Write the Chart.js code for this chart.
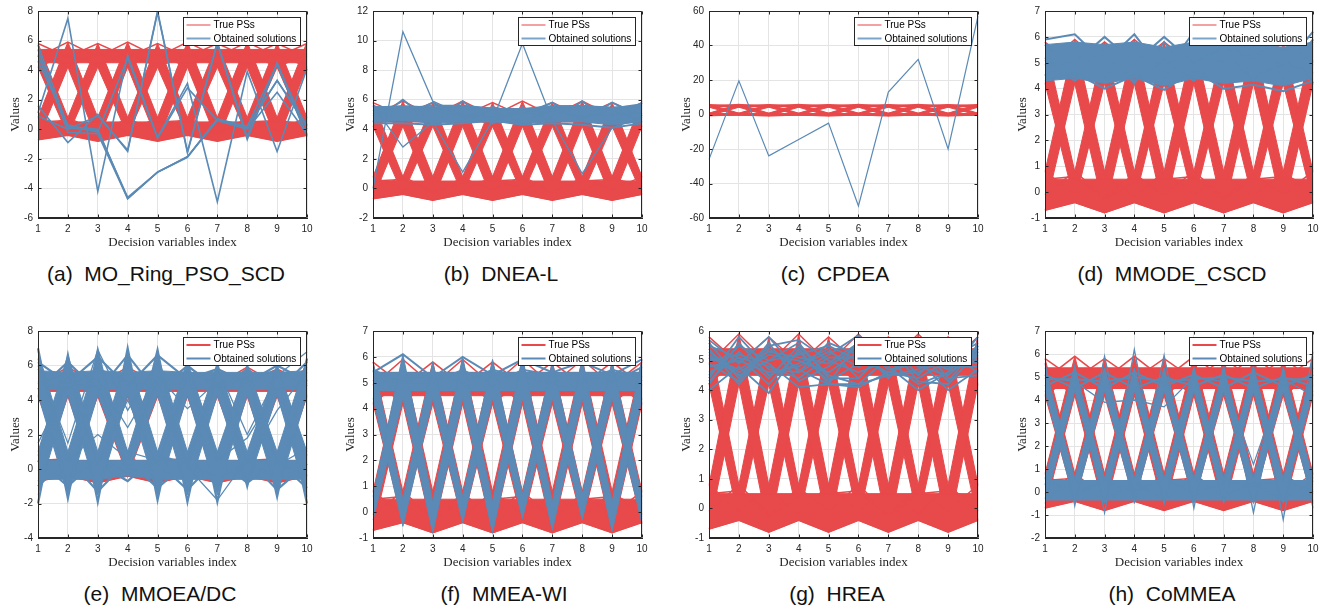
<!DOCTYPE html>
<html>
<head>
<meta charset="utf-8">
<script src="https://cdn.jsdelivr.net/npm/chart.js@4.4.1/dist/chart.umd.min.js"></script>
<style>
html, body { margin: 0; padding: 0; background: #fff; }
body { width: 1323px; height: 607px; position: relative; overflow: hidden; font-family: 'Liberation Sans', Arial, sans-serif; }
.panel { position: absolute; }
.cap { position: absolute; font-size: 21px; line-height: 1; white-space: pre; transform: translateX(-50%); color: #111; }
</style>
</head>
<body>
<script>
// x axis: decision variable index
const varIndex = [1, 2, 3, 4, 5, 6, 7, 8, 9, 10];

// true PSs (same in every panel): the two flat bands and the two crossing ribbons, as upper/lower edges
const psLowTop = [0.5, 0.5, 0.5, 0.5, 0.5, 0.5, 0.5, 0.5, 0.5, 0.5];
const psLowBottom = [-0.7, -0.4, -0.8, -0.4, -0.8, -0.4, -0.8, -0.4, -0.8, -0.4];
const psHighTop = [5.4, 5.4, 5.4, 5.4, 5.4, 5.4, 5.4, 5.4, 5.4, 5.4];
const psHighBottom = [4.5, 4.5, 4.5, 4.5, 4.5, 4.5, 4.5, 4.5, 4.5, 4.5];
const psRibbonATop = [0.8, 5.9, 0.8, 5.9, 0.8, 5.9, 0.8, 5.9, 0.8, 5.9];
const psRibbonABottom = [-0.7, 4.2, -0.8, 4.2, -0.8, 4.2, -0.8, 4.2, -0.8, 4.2];
const psRibbonBTop = [5.8, 0.8, 5.8, 0.8, 5.8, 0.8, 5.8, 0.8, 5.8, 0.8];
const psRibbonBBottom = [4.2, -0.4, 4.2, -0.4, 4.2, -0.4, 4.2, -0.4, 4.2, -0.4];
// single true PS lines inside the bands
const psLow = [
    [0.8, -0.1, 0.7, -0.2, 0.8, -0.1, 0.7, -0.2, 0.8, -0.1],
    [-0.1, 0.8, -0.2, 0.7, -0.1, 0.8, -0.2, 0.7, -0.1, 0.8],
    [-0.7, -0.4, -0.8, -0.4, -0.8, -0.4, -0.8, -0.4, -0.8, -0.4],
    [0.5, 0.6, -0.3, 0.4, 0.5, 0.6, -0.3, 0.5, 0.6, 0.3]
];
const psHigh = [
    [4.2, 5.1, 4.3, 5.2, 4.2, 5.1, 4.3, 5.2, 4.2, 5.1],
    [5.1, 4.2, 5.2, 4.3, 5.1, 4.2, 5.2, 4.3, 5.1, 4.2],
    [5.8, 4.9, 5.8, 4.9, 5.8, 4.9, 5.8, 4.9, 5.8, 4.9],
    [4.9, 5.9, 4.9, 5.9, 4.9, 5.9, 4.9, 5.9, 4.9, 5.8]
];

// (a) MO_Ring_PSO_SCD
const solAThin = [
    [1.1, 7.5, -4.2, 5.0, -0.55, 3.1, -4.9, 3.9, -1.5, 4.1],
    [5.7, 0.2, 0.0, -4.7, -2.9, -1.85, 0.7, 0.1, 3.3, 0.2],
    [5.4, -0.2, -0.3, -4.7, -2.9, -1.85, 0.6, 0.0, 2.5, -0.3],
    [1.6, -0.9, 1.0, -1.5, 8.0, -1.6, 5.8, -0.7, 4.5, -0.4],
    [4.6, 0.3, -0.2, 4.8, -0.6, 2.8, 0.6, 0.2, 4.4, 0.0],
    [0.9, 0.0, 0.9, -1.4, 7.9, -1.5, 5.9, -0.5, 4.4, -0.5],
    [5.0, 0.1, -0.1, -4.6, -2.9, -1.9, 0.7, 0.2, 3.3, 0.3]
];
// (b) DNEA-L
const solBTop = [5.5, 5.6, 5.5, 5.6, 5.4, 5.4, 5.6, 5.6, 5.5, 5.6];
const solBBottom = [4.5, 4.6, 4.4, 4.5, 4.5, 4.4, 4.5, 4.5, 4.3, 4.5];
const solB = [
    [5.6, 4.9, 5.8, 4.5, 5.5, 5.0, 5.8, 4.6, 5.8, 4.9],
    [4.5, 6.0, 4.4, 5.9, 4.4, 5.5, 4.5, 5.9, 4.4, 5.8],
    [5.3, 4.6, 5.4, 4.8, 5.2, 4.5, 5.3, 4.8, 5.4, 4.5],
    [4.4, 4.4, 4.3, 4.4, 4.6, 4.3, 4.4, 4.3, 4.1, 4.4],
    [5.5, 5.4, 5.6, 5.6, 5.4, 5.3, 5.5, 5.6, 5.4, 5.7]
];
const solBThin = [
    [0.0, 10.6, 5.9, 5.0, 4.8, 5.1, 5.2, 4.9, 5.0, 5.1],
    [5.6, 2.8, 4.5, 1.1, 4.6, 9.8, 4.6, 1.0, 4.1, 4.8]
];
// (c) CPDEA
const solCThin = [
    [-26, 19.5, -24, -14.5, -5, -53, 13, 32, -20, 57]
];
// (d) MMODE_CSCD
const solDTop = [5.7, 5.8, 5.7, 5.8, 5.6, 5.8, 5.7, 5.7, 5.6, 5.8];
const solDBottom = [4.3, 4.4, 4.2, 4.4, 4.1, 4.4, 4.2, 4.3, 4.1, 4.4];
const solD = [
    [5.9, 6.1, 5.0, 6.1, 4.6, 6.2, 5.0, 5.9, 4.8, 6.2],
    [4.9, 5.0, 6.0, 5.0, 6.0, 5.0, 5.6, 5.2, 5.9, 5.0],
    [4.3, 4.6, 4.0, 4.5, 3.95, 4.7, 4.0, 4.15, 3.9, 4.3],
    [5.2, 4.3, 5.3, 4.3, 5.1, 4.3, 5.2, 4.4, 5.0, 4.6],
    [4.5, 5.8, 4.4, 5.8, 4.4, 5.7, 4.6, 5.6, 4.4, 5.9],
    [5.7, 4.5, 5.5, 4.2, 5.8, 4.4, 5.7, 4.3, 5.6, 4.2]
];
// (e) MMOEA/DC
const solERibbonATop = [1.0, 6.6, 1.0, 6.6, 1.0, 6.2, 1.0, 6.0, 1.0, 6.4];
const solERibbonABottom = [-1.5, 4.3, -1.5, 4.3, -1.5, 4.3, -1.5, 4.3, -1.4, 4.3];
const solERibbonBTop = [6.8, 1.0, 6.6, 1.0, 6.6, 1.0, 6.1, 1.0, 6.0, 1.0];
const solERibbonBBottom = [4.3, -1.5, 4.3, -0.3, 4.3, -1.5, 4.3, -1.0, 4.3, -1.6];
const solEHighTop = [5.7, 5.6, 5.7, 5.6, 5.7, 5.6, 5.6, 5.6, 5.6, 5.7];
const solEHighBottom = [4.6, 4.6, 4.6, 4.6, 4.6, 4.6, 4.6, 4.6, 4.6, 4.6];
const solELowTop = [0.5, 0.5, 0.5, 0.5, 0.5, 0.5, 0.5, 0.5, 0.5, 0.5];
const solELowBottom = [-0.6, -0.6, -0.6, -0.4, -0.6, -0.6, -0.6, -0.6, -0.6, -0.6];
const solE = [
    [-2.0, 6.6, -1.9, 7.0, -1.8, 6.2, -1.9, 6.0, -1.6, 6.4],
    [7.0, -1.7, 6.9, -0.3, 6.9, -1.9, 6.1, -1.0, 6.0, -2.0],
    [6.2, 5.0, 6.5, 4.8, 6.6, 5.2, 5.8, 5.0, 6.0, 5.1],
    [4.6, 6.2, 4.5, 6.6, 4.4, 6.0, 4.6, 5.8, 4.5, 6.2],
    [5.0, 4.6, 5.8, 5.1, 4.9, 5.7, 4.8, 5.3, 5.7, 4.8],
    [0.5, -1.0, 0.6, -0.2, 0.4, -1.2, 0.6, -0.8, 0.5, -1.1],
    [-1.0, 0.6, -1.3, 0.5, -1.1, 0.4, -0.9, 0.6, -1.2, 0.3],
    [-0.6, -0.4, 0.3, -0.7, 0.8, 0.3, -0.5, 0.4, -0.6, -0.3]
];
const solEThin = [
    [5.0, 5.5, 0.3, 4.0, 0.2, 5.3, 0.5, 1.8, 4.6, 5.0],
    [0.4, 5.6, 5.2, 2.4, 5.4, 3.5, 5.1, 0.4, 3.4, 5.6],
    [6.4, 0.5, 2.0, 0.6, 5.2, 0.1, -1.8, 0.6, 0.2, 1.2],
    [1.5, 4.9, 4.8, 1.0, 0.5, 0.6, 5.0, 5.3, 0.4, -0.4],
    [6.0, 1.5, 6.9, 3.4, 6.2, 0.0, 5.9, 2.0, 5.4, 6.8]
];
// (f) MMEA-WI
const solFRibbonATop = [0.6, 6.1, 0.4, 6.0, 0.4, 6.0, 0.4, 5.9, 0.4, 5.9];
const solFRibbonABottom = [-0.3, 4.4, -0.8, 4.4, -0.8, 4.4, -0.7, 4.4, -0.75, 4.4];
const solFRibbonBTop = [5.8, 0.5, 5.8, 0.6, 5.9, 0.7, 5.8, 0.7, 5.8, 0.6];
const solFRibbonBBottom = [4.4, -0.55, 4.4, -0.4, 4.4, -0.25, 4.4, -0.3, 4.4, -0.45];
const solFTop = [5.4, 5.4, 5.4, 5.4, 5.4, 5.4, 5.4, 5.4, 5.4, 5.4];
const solFBottom = [4.7, 4.7, 4.7, 4.7, 4.7, 4.7, 4.7, 4.7, 4.7, 4.7];
const solF = [
    [5.4, 6.1, 5.2, 6.0, 5.3, 5.9, 5.4, 5.8, 5.3, 5.9],
    [5.0, 5.1, 5.4, 5.0, 5.5, 5.2, 5.0, 5.4, 5.0, 5.6],
    [5.5, 5.0, 5.0, 5.5, 4.9, 5.5, 5.3, 5.0, 5.5, 5.2]
];
// (g) HREA
const solGThin = [
    [5.7, 4.9, 5.8, 4.6, 5.2, 5.85, 4.8, 4.0, 4.6, 5.8],
    [4.0, 4.8, 3.9, 5.4, 4.2, 4.1, 4.6, 5.0, 4.0, 4.7],
    [4.9, 4.3, 5.5, 5.7, 5.0, 4.6, 5.0, 5.2, 4.9, 5.0],
    [5.0, 5.2, 4.9, 4.1, 4.2, 4.2, 4.5, 4.6, 5.1, 5.2],
    [4.5, 5.5, 5.0, 5.2, 5.5, 5.0, 5.3, 4.8, 4.5, 5.4],
    [5.3, 4.6, 5.2, 5.0, 4.6, 5.3, 4.9, 5.4, 5.2, 4.9],
    [4.8, 5.0, 4.6, 4.8, 5.3, 4.8, 5.2, 5.1, 4.7, 5.5],
    [5.1, 4.7, 5.3, 5.1, 4.9, 5.6, 4.7, 4.9, 5.4, 5.1],
    [4.3, 5.3, 4.4, 5.5, 4.5, 4.2, 5.1, 5.0, 4.8, 4.8],
    [5.5, 5.1, 4.8, 4.4, 5.1, 5.1, 4.6, 4.4, 5.0, 5.6],
    [4.2, 5.6, 4.5, 4.9, 5.4, 4.4, 5.5, 4.3, 4.2, 5.3],
    [5.6, 4.4, 5.6, 4.3, 4.8, 5.5, 4.4, 5.6, 4.4, 4.5],
    [4.6, 5.1, 4.2, 5.3, 4.3, 4.9, 5.6, 4.5, 5.6, 5.0],
    [5.2, 4.5, 5.0, 5.6, 4.4, 4.4, 5.4, 5.3, 4.3, 5.5],
    [4.4, 5.8, 4.7, 4.6, 5.6, 5.2, 4.5, 4.7, 5.3, 4.6],
    [5.4, 4.2, 5.4, 4.7, 4.2, 5.7, 5.0, 4.2, 4.6, 5.2]
];
// (h) CoMMEA
const solHRibbonATop = [0.6, 5.4, 0.6, 5.4, 0.6, 5.4, 0.6, 5.4, 0.6, 5.4];
const solHRibbonABottom = [-0.5, 4.4, -0.5, 4.4, -0.5, 4.4, -0.5, 4.4, -0.5, 4.4];
const solHRibbonBTop = [5.4, 0.6, 5.4, 0.6, 5.4, 0.6, 5.4, 0.6, 5.4, 0.6];
const solHRibbonBBottom = [4.4, -0.5, 4.4, -0.5, 4.4, -0.5, 4.4, -0.5, 4.4, -0.5];
const solHTop = [0.5, 0.5, 0.5, 0.5, 0.5, 0.5, 0.5, 0.5, 0.5, 0.5];
const solHBottom = [-0.35, -0.35, -0.35, -0.35, -0.35, -0.35, -0.35, -0.35, -0.35, -0.35];
const solH = [
    [0.6, -0.1, 0.5, 0.0, 0.6, -0.1, 0.4, 0.3, 0.5, 0.0],
    [-0.3, 0.5, -0.4, 0.4, -0.3, 0.6, -0.2, 0.4, -0.4, 0.5],
    [5.1, 4.5, 5.2, 4.5, 5.0, 4.6, 5.1, 4.5, 5.0, 4.6],
    [4.6, 5.2, 4.5, 5.2, 4.6, 5.1, 4.5, 5.2, 4.6, 5.1],
    [4.9, 4.9, 4.8, 5.0, 4.8, 4.9, 5.0, 4.8, 4.9, 4.9]
];
const solHThin = [
    [0.3, 5.5, -0.9, 6.2, -0.5, 5.4, 0.2, 5.5, -1.2, 6.1],
    [5.6, -0.6, 5.9, -0.2, 5.95, -0.7, 5.5, -0.9, 5.4, -0.7],
    [5.0, 4.8, 3.9, 4.0, 3.7, 5.0, 4.8, 1.2, 4.9, 4.2]
];

// y tick labels per panel
const yTicksA = [-6, -4, -2, 0, 2, 4, 6, 8];
const yTicksB = [-2, 0, 2, 4, 6, 8, 10, 12];
const yTicksC = [-60, -40, -20, 0, 20, 40, 60];
const yTicksD = [-1, 0, 1, 2, 3, 4, 5, 6, 7];
const yTicksE = [-4, -2, 0, 2, 4, 6, 8];
const yTicksF = [-1, 0, 1, 2, 3, 4, 5, 6, 7];
const yTicksG = [-1, 0, 1, 2, 3, 4, 5, 6];
const yTicksH = [-2, -1, 0, 1, 2, 3, 4, 5, 6, 7];

const captions = ['(a)  MO_Ring_PSO_SCD', '(b)  DNEA-L', '(c)  CPDEA', '(d)  MMODE_CSCD',
                  '(e)  MMOEA/DC', '(f)  MMEA-WI', '(g)  HREA', '(h)  CoMMEA'];

const RED = '#e8494b';
const BLUE = '#5a8ab5';
const GRID = '#e4e4e4';
const AXIS = '#262626';
const SANS = "'Liberation Sans', Arial, sans-serif";
const SERIF = "'Liberation Serif', 'Times New Roman', serif";

const redFills = [[psLowTop, psLowBottom], [psHighTop, psHighBottom],
                  [psRibbonATop, psRibbonABottom], [psRibbonBTop, psRibbonBBottom]];

const panels = [
    {x: 38, y: 11, w: 269, ticks: yTicksA, fills: [], band: [], thin: solAThin,
     redW: 1.5, bandW: 2, thinW: 1.6, capX: 166, capY: 263, top: true},
    {x: 373, y: 11, w: 269, ticks: yTicksB, fills: [[solBTop, solBBottom]], band: solB, thin: solBThin,
     redW: 1.5, bandW: 2, thinW: 1.3, capX: 501, capY: 263, top: true},
    {x: 709, y: 11, w: 269, ticks: yTicksC, fills: [], band: [], thin: solCThin,
     redW: 1, bandW: 2, thinW: 1.2, capX: 835, capY: 263, top: true},
    {x: 1045, y: 11, w: 268, ticks: yTicksD, fills: [[solDTop, solDBottom]], band: solD, thin: [],
     redW: 1.5, bandW: 2, thinW: 1.3, capX: 1172, capY: 263, top: true},
    {x: 38, y: 331, w: 269, ticks: yTicksE,
     fills: [[solERibbonATop, solERibbonABottom], [solERibbonBTop, solERibbonBBottom],
             [solEHighTop, solEHighBottom], [solELowTop, solELowBottom]],
     band: solE, thin: solEThin, redW: 1.5, bandW: 2.2, thinW: 1.3, capX: 160, capY: 583, top: false},
    {x: 373, y: 331, w: 269, ticks: yTicksF,
     fills: [[solFRibbonATop, solFRibbonABottom], [solFRibbonBTop, solFRibbonBBottom], [solFTop, solFBottom]],
     band: solF, thin: [], redW: 1.5, bandW: 2, thinW: 1.3, capX: 504, capY: 583, top: false},
    {x: 709, y: 331, w: 269, ticks: yTicksG, fills: [], band: [], thin: solGThin,
     redW: 1.5, bandW: 2, thinW: 1.8, capX: 837, capY: 583, top: false},
    {x: 1045, y: 331, w: 268, ticks: yTicksH,
     fills: [[solHRibbonATop, solHRibbonABottom], [solHRibbonBTop, solHRibbonBBottom], [solHTop, solHBottom]],
     band: solH, thin: solHThin, redW: 1.5, bandW: 2, thinW: 1.3, capX: 1172, capY: 583, top: false}
];

// box around the axes plus inward tick marks
const framePlugin = {
    id: 'frame',
    afterDatasetsDraw(chart) {
        const {ctx, chartArea: a, scales: {x, y}} = chart;
        const L = Math.round(a.left) + 0.5, R = Math.round(a.right) - 0.5;
        const T = Math.round(a.top) + 0.5, B = Math.round(a.bottom) - 0.5;
        ctx.save();
        ctx.strokeStyle = AXIS;
        ctx.lineWidth = 1;
        ctx.beginPath();
        ctx.rect(L, T, R - L, B - T);
        x.ticks.forEach((t, i) => {
            const px = Math.round(x.getPixelForTick(i)) + 0.5;
            ctx.moveTo(px, B); ctx.lineTo(px, B - 3);
            ctx.moveTo(px, T); ctx.lineTo(px, T + 3);
        });
        y.ticks.forEach(t => {
            const py = Math.round(y.getPixelForValue(t.value)) + 0.5;
            ctx.moveTo(L, py); ctx.lineTo(L + 3, py);
            ctx.moveTo(R, py); ctx.lineTo(R - 3, py);
        });
        ctx.stroke();
        ctx.restore();
    }
};

// legend box in the upper right corner
const legendPlugin = {
    id: 'boxLegend',
    afterDraw(chart, args, opts) {
        const {ctx, chartArea: a} = chart;
        ctx.save();
        ctx.font = '10px ' + SANS;
        const tw = ctx.measureText('Obtained solutions').width;
        const bw = Math.round(tw + 34), bh = 28;
        const bx = Math.round(a.right - 7 - bw) + 0.5, by = Math.round(a.top + 6) + 0.5;
        ctx.fillStyle = '#fff';
        ctx.fillRect(bx, by, bw, bh);
        ctx.strokeStyle = AXIS;
        ctx.lineWidth = 1;
        ctx.strokeRect(bx, by, bw, bh);
        const rows = [['True PSs', opts.red], ['Obtained solutions', opts.blue]];
        rows.forEach((r, i) => {
            const ry = by + 7.5 + i * 13.5;
            ctx.strokeStyle = r[1];
            ctx.lineWidth = 2;
            ctx.beginPath();
            ctx.moveTo(bx + 3, ry);
            ctx.lineTo(bx + 27, ry);
            ctx.stroke();
            ctx.fillStyle = '#000';
            ctx.textBaseline = 'middle';
            ctx.fillText(r[0], bx + 30, ry + 0.5);
        });
        ctx.restore();
    }
};

// lower order is drawn later: solutions sit above the true PSs
function lineSet(rows, color, width, order) {
    return rows.map(r => ({
        data: r, borderColor: color, borderWidth: width,
        pointRadius: 0, tension: 0, fill: false, order: order
    }));
}

// upper edge filled down to the next dataset (its lower edge)
function fillSet(pairs, color, order) {
    const out = [];
    pairs.forEach(pr => {
        out.push({data: pr[0], borderColor: color, borderWidth: 1, backgroundColor: color,
                  pointRadius: 0, tension: 0, fill: '+1', order: order});
        out.push({data: pr[1], borderColor: color, borderWidth: 1,
                  pointRadius: 0, tension: 0, fill: false, order: order});
    });
    return out;
}

panels.forEach((p, i) => {
    const W = p.w + 48, H = 207 + 50;
    const wrap = document.createElement('div');
    wrap.className = 'panel';
    wrap.style.left = (p.x - 38) + 'px';
    wrap.style.top = (p.y - 10) + 'px';
    const cv = document.createElement('canvas');
    cv.width = W; cv.height = H;
    cv.style.width = W + 'px'; cv.style.height = H + 'px';
    wrap.appendChild(cv);
    document.body.appendChild(wrap);

    const cap = document.createElement('div');
    cap.className = 'cap';
    cap.textContent = captions[i];
    cap.style.left = p.capX + 'px';
    cap.style.top = p.capY + 'px';
    document.body.appendChild(cap);

    const datasets = [].concat(
        fillSet(redFills, RED, 4),
        lineSet([].concat(psLow, psHigh), RED, p.redW, 3),
        fillSet(p.fills, BLUE, 2),
        lineSet(p.band, BLUE, p.bandW, 1),
        lineSet(p.thin, BLUE, p.thinW, 0)
    );

    new Chart(cv, {
        type: 'line',
        data: {labels: varIndex, datasets: datasets},
        options: {
            responsive: false,
            animation: false,
            events: [],
            layout: {padding: {left: 0, top: 10, right: 10, bottom: 0}},
            plugins: {
                legend: {display: false},
                tooltip: {enabled: false},
                filler: {propagate: false},
                boxLegend: p.top ? {red: '#f2a2a3', blue: '#7aa4c9'} : {red: RED, blue: BLUE}
            },
            scales: {
                x: {
                    grid: {color: GRID, drawTicks: false},
                    border: {color: AXIS},
                    ticks: {color: AXIS, font: {family: SANS, size: 10}, padding: 5, maxRotation: 0, autoSkip: false},
                    title: {display: true, text: 'Decision variables index', color: AXIS,
                            font: {family: SERIF, size: 13}, padding: {top: 0, bottom: 8}},
                    afterFit: s => { s.height = 40; s.paddingLeft = 0; s.paddingRight = 0; }
                },
                y: {
                    min: p.ticks[0],
                    max: p.ticks[p.ticks.length - 1],
                    afterBuildTicks: s => { s.ticks = p.ticks.map(v => ({value: v})); },
                    grid: {color: GRID, drawTicks: false},
                    border: {color: AXIS},
                    ticks: {color: AXIS, font: {family: SANS, size: 10}, padding: 5},
                    title: {display: true, text: 'Values', color: AXIS,
                            font: {family: SERIF, size: 13}, padding: {top: 8, bottom: 0}},
                    afterFit: s => { s.width = 38; s.paddingTop = 0; s.paddingBottom = 0; }
                }
            }
        },
        plugins: [framePlugin, legendPlugin]
    });
});
</script>
</body>
</html>
